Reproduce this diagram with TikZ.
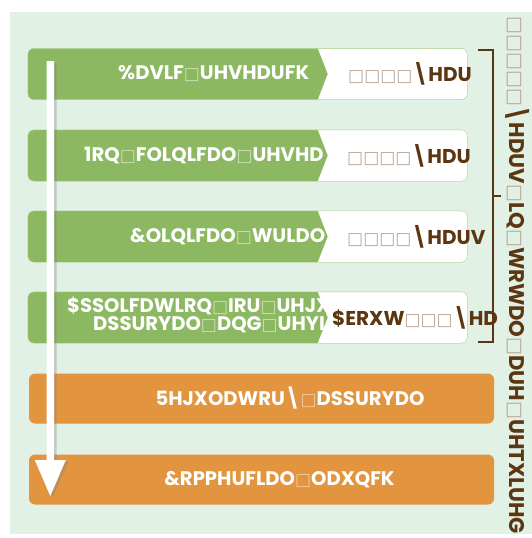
\documentclass[tikz,border=0pt]{standalone}
\usepackage{fontspec}
\setmainfont{Poppins}
\newfontfamily\symfont{DejaVu Sans}
\usetikzlibrary{positioning,shadows}

\definecolor{bgGreen}{HTML}{E1F1E6}
\definecolor{barGreen}{HTML}{8CB862}
\definecolor{barLine}{HTML}{A9D08A}
\definecolor{barOrange}{HTML}{E3943F}
\definecolor{tagBrown}{HTML}{5C3511}
\definecolor{boxGreen}{HTML}{C9DFB5}
\definecolor{boxBrown}{HTML}{BBA899}
\definecolor{boxOrange}{HTML}{F3C89B}
\colorlet{boxcol}{white}

% missing glyph box
\def\bxsize{17}
\newcommand\bx{{\symfont\fontsize{\bxsize}{\bxsize}\selectfont\color{boxcol}□}}

% white tag cut into the right end of a green bar
\newcommand\tagshape[1]{%
  \begin{scope}
    \clip[rounded corners=6pt] (#1.north west) rectangle (#1.south east);
    \fill[white] ([xshift=290pt]#1.north west) -- ([xshift=300pt]#1.west)
      -- ([xshift=290pt]#1.south west) -- (#1.south east) -- (#1.north east) -- cycle;
  \end{scope}
  \draw[barLine, rounded corners=6pt] (#1.north west) rectangle (#1.south east);}

\tikzset{
	greenbar/.style={fill=barGreen, rounded corners=6pt, minimum width=439pt, minimum height=51pt, inner sep=0pt},
	orangebar/.style={fill=barOrange, rounded corners=6pt, minimum width=465pt, minimum height=50pt, inner sep=0pt},
	bartext/.style={text=white, font=\bfseries\fontsize{19.6}{22}\selectfont, inner sep=0pt, execute at begin node=\colorlet{boxcol}{boxGreen}},
	orangetext/.style={bartext, execute at begin node=\colorlet{boxcol}{boxOrange}},
	tagtext/.style={text=tagBrown, font=\bfseries\fontsize{20}{22}\selectfont, inner sep=0pt, anchor=west, execute at begin node=\colorlet{boxcol}{boxBrown}},
	sidetext/.style={tagtext, font=\bfseries\fontsize{21.2}{23}\selectfont, execute at begin node={\colorlet{boxcol}{boxBrown}\def\bxsize{19}}},
	bracket/.style={tagBrown, line width=1.8pt}
}

\begin{document}
\begin{tikzpicture}[x=1pt, y=-1pt]
\useasboundingbox (0,0) rectangle (532,538);
\fill[white] (0,0) rectangle (532,538);
\fill[bgGreen] (10,12) rectangle (532,534);

% green stages
\node (basic) at (247.5,74) [greenbar] {};
\node (nonclin) at (247.5,155.5) [greenbar] {};
\node (clin) at (247.5,236.5) [greenbar] {};
\node (apply) at (247.5,317.5) [greenbar] {};

\node (basicT) at (118,74) [bartext, anchor=west] {\%DVLF\bx UHVHDUFK};
\node (nonclinT) at (84,155.5) [bartext, anchor=west] {1RQ\bx FOLQLFDO\bx UHVHD};
\node (clinT) at (130,236.5) [bartext, anchor=west] {\&OLQLFDO\bx WULDO};
\node (applyT) at (67,305.5) [bartext, anchor=west] {\$SSOLFDWLRQ\bx IRU\bx UHJXO};
\node (applyU) at (93,325) [bartext, anchor=west] {DSSURYDO\bx DQG\bx UHYLH};

\tagshape{basic}
\tagshape{nonclin}
\tagshape{clin}
\tagshape{apply}

\node (basicY) at (348,74) [tagtext] {\bx\bx\bx\bx\textbackslash HDU};
\node (nonclinY) at (347,155.5) [tagtext] {\bx\bx\bx\bx\textbackslash HDU};
\node (clinY) at (347,236.5) [tagtext] {\bx\bx\bx\bx\textbackslash HDUV};
\node (applyY) at (332,317.5) [tagtext] {\$ERXW\bx\bx\bx\textbackslash HD};

% orange stages
\node (reg) at (261.5,398.5) [orangebar] {};
\node (launch) at (261.5,479.5) [orangebar] {};
\node (regT) at (290,398) [orangetext] {5HJXODWRU\textbackslash\bx DSSURYDO};
\node (launchT) at (279.5,479.5) [orangetext] {\&RPPHUFLDO\bx ODXQFK};

% time arrow
\coordinate (arrowtop) at (50.3,61);
\coordinate (arrowtip) at (50.3,496);
\fill[white, drop shadow={shadow xshift=2.5pt, shadow yshift=-1.5pt, opacity=0.35}]
  ([xshift=-3.7pt]arrowtop) -- ([xshift=3.7pt]arrowtop) -- ([xshift=3.7pt, yshift=36pt]arrowtip)
  -- ([xshift=15.5pt, yshift=36pt]arrowtip) -- (arrowtip) -- ([xshift=-15.5pt, yshift=36pt]arrowtip)
  -- ([xshift=-3.7pt, yshift=36pt]arrowtip) -- cycle;

% bracket
\coordinate (brtop) at (478,50);
\coordinate (brbot) at (478,342);
\coordinate (brmid) at (501,196);
\draw[bracket] (brtop) -- ++(15,0) |- (brbot);
\draw[bracket] (brmid) -- ++(-8,0);

\node (total) at (509,16) [sidetext, rotate=-90, anchor=base west]
  {\bx\bx\bx\bx\bx\textbackslash HDUV\bx LQ\bx WRWDO\bx DUH\bx UHTXLUHG};
\end{tikzpicture}
\end{document}
